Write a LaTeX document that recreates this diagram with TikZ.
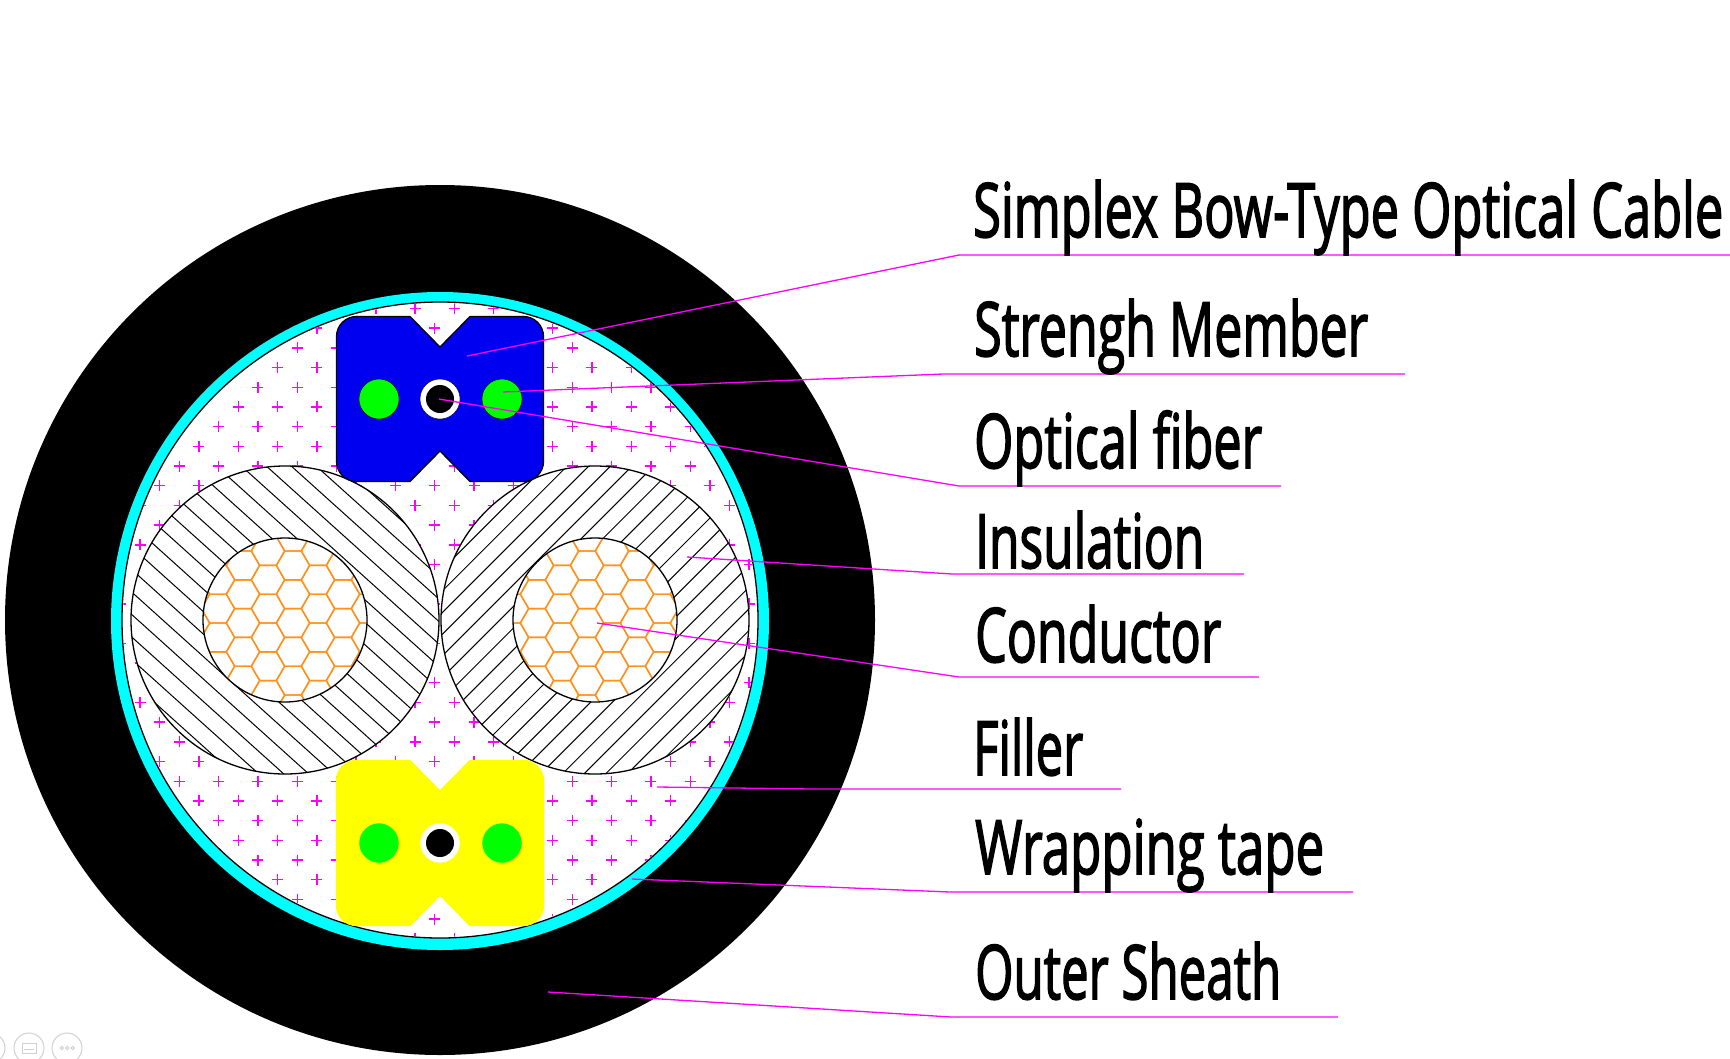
\documentclass[tikz,border=0pt]{standalone}
\usepackage{graphicx}
\usepackage{fontspec}
\setmainfont{Open Sans}
\newfontfamily\labelfont[FakeBold=2.4]{Open Sans}

\tikzset{
  leader/.style={draw=fillmagenta,line width=1.3pt},
  lbl/.style={anchor=base west,inner sep=0pt,font=\labelfont\fontsize{75}{80}\selectfont},
  plusmark/.style={draw=fillmagenta,line width=1.4pt},
  hexline/.style={draw=hexorange,line width=1.4pt},
  hatchline/.style={draw=black,line width=1pt},
  ringline/.style={draw=black,line width=1.3pt},
  dot/.style={circle,inner sep=0pt,fill=fibergreen,minimum size=40pt},
  iconline/.style={draw=black!18,line width=1pt}
}
\definecolor{fillmagenta}{RGB}{255,0,255}
\definecolor{hexorange}{RGB}{255,145,30}
\definecolor{fibergreen}{RGB}{0,255,0}
\definecolor{tapecyan}{RGB}{0,255,255}
\definecolor{bowblue}{RGB}{0,0,240}
\definecolor{bowyellow}{RGB}{255,255,0}

\newcommand{\cablelabel}[2]{\resizebox{#1pt}{\height}{#2}}

% one insulated conductor: centre x, hatch angle, hatch start, hatch step, first hexagon x
\newcommand{\conductor}[5]{
  \fill[white] (#1,620) circle [radius=154];
  \begin{scope}
    \clip (#1,620) circle [radius=154];
    \foreach \k in {0,...,20}
      \draw[hatchline,rotate around={#2:(#1,620)}] ({#1-170},{620+#3-#4*\k}) -- ({#1+170},{620+#3-#4*\k});
  \end{scope}
  \draw[ringline] (#1,620) circle [radius=154];
  \fill[white] (#1,620) circle [radius=82];
  \begin{scope}
    \clip (#1,620) circle [radius=82];
    \foreach \i in {-4,...,4}
      \foreach \j in {-4,...,4} {
        \pgfmathsetmacro{\cx}{#5+25*\i}
        \pgfmathsetmacro{\cy}{623+28.8*\j+14.4*mod(abs(\i),2)}
        \draw[hexline] ({\cx+16.7},\cy) -- ({\cx+8.35},{\cy+14.4}) -- ({\cx-8.35},{\cy+14.4})
          -- ({\cx-16.7},\cy) -- ({\cx-8.35},{\cy-14.4}) -- ({\cx+8.35},{\cy-14.4}) -- cycle;
      }
  \end{scope}
  \draw[ringline] (#1,620) circle [radius=82];
}

% one bow-type unit: centre y, body colour, outline colour, node prefix
\newcommand{\bowunit}[4]{
  \begin{scope}[shift={(440,#1)}]
    \filldraw[fill=#2,draw=#3,line width=1.3pt] (0,-52) -- (30,-82.5) -- (83.5,-82.5)
      .. controls (94.5,-82.5) and (103.5,-73.5) .. (103.5,-62.5) -- (103.5,62.5)
      .. controls (103.5,73.5) and (94.5,82.5) .. (83.5,82.5) -- (30,82.5) -- (0,52) -- (-30,82.5) -- (-83.5,82.5)
      .. controls (-94.5,82.5) and (-103.5,73.5) .. (-103.5,62.5) -- (-103.5,-62.5)
      .. controls (-103.5,-73.5) and (-94.5,-82.5) .. (-83.5,-82.5) -- (-30,-82.5) -- cycle;
    \node[dot,draw=#3] (#4left) at (-61,0) {};
    \node[dot,draw=#3] (#4right) at (62,0) {};
    \node[dot,fill=white,draw=#3] (#4ring) at (0,0) {};
    \node[dot,fill=black,minimum size=28pt] (#4core) at (0,0) {};
  \end{scope}
}

\begin{document}
\begin{tikzpicture}[x=1pt,y=-1pt]
  \useasboundingbox (0,0) rectangle (1730,1058);
  \fill[white] (0,0) rectangle (1730,1058);
  \clip (0,0) rectangle (1730,1058);

  \fill[black] (440,620) circle [radius=435];
  \fill[tapecyan] (440,621) circle [radius=329];
  \filldraw[fill=white,draw=black,line width=1.3pt] (440,620) circle [radius=318];

  \begin{scope}
    \clip (440,620) circle [radius=317];
    \foreach \j in {-9,...,24}
      \foreach \i in {-2,...,16} {
        \pgfmathsetmacro{\px}{179.3+39.3*\i-19.65*mod(abs(\j),2)}
        \pgfmathsetmacro{\py}{466+19.7*\j}
        \draw[plusmark] ({\px-5.5},\py) -- ({\px+5.5},\py) (\px,{\py-5.5}) -- (\px,{\py+5.5});
      }
  \end{scope}

  \conductor{285}{-42}{148.6}{16.7}{293}
  \conductor{595}{45}{146.9}{15.3}{587}

  \bowunit{399}{bowblue}{black}{top}
  \bowunit{843}{bowyellow}{bowyellow}{low}

  \coordinate (cableTip) at (467,356);
  \coordinate (cableElbow) at (959,255);
  \coordinate (cableEnd) at (1730,255);
  \coordinate (memberTip) at (503,392);
  \coordinate (memberElbow) at (943,374);
  \coordinate (memberEnd) at (1405,374);
  \coordinate (fiberTip) at (439,399);
  \coordinate (fiberElbow) at (959,486);
  \coordinate (fiberEnd) at (1281,486);
  \coordinate (insulTip) at (687,557);
  \coordinate (insulElbow) at (952,574);
  \coordinate (insulEnd) at (1244,574);
  \coordinate (condTip) at (597,623);
  \coordinate (condElbow) at (959,677);
  \coordinate (condEnd) at (1259,677);
  \coordinate (fillerTip) at (657,787);
  \coordinate (fillerElbow) at (813,789);
  \coordinate (fillerEnd) at (1121,789);
  \coordinate (tapeTip) at (632,879);
  \coordinate (tapeElbow) at (950,892);
  \coordinate (tapeEnd) at (1353,892);
  \coordinate (sheathTip) at (548,992);
  \coordinate (sheathElbow) at (951,1017);
  \coordinate (sheathEnd) at (1338,1017);
  \foreach \name in {cable,member,fiber,insul,cond,filler,tape,sheath}
    \draw[leader] (\name Tip) -- (\name Elbow) -- (\name End);

  \node[lbl] (cableText) at (973,237) {\cablelabel{750}{Simplex Bow-Type Optical Cable}};
  \node[lbl] (memberText) at (974,356) {\cablelabel{394}{Strengh Member}};
  \node[lbl] (fiberText) at (974,468) {\cablelabel{288}{Optical fiber}};
  \node[lbl] (insulText) at (975,568) {\cablelabel{229}{Insulation}};
  \node[lbl] (condText) at (975,662) {\cablelabel{246}{Conductor}};
  \node[lbl] (fillerText) at (973,775) {\cablelabel{110}{Filler}};
  \node[lbl] (tapeText) at (975,874) {\cablelabel{349}{Wrapping tape}};
  \node[lbl] (sheathText) at (975,999) {\cablelabel{306}{Outer Sheath}};

  \draw[iconline] (-10,1048) circle [radius=15];
  \draw[iconline] (29,1048) circle [radius=15];
  \draw[iconline] (67,1048) circle [radius=15];
  \draw[iconline] (22,1043) rectangle (36,1053);
  \draw[iconline] (24,1049) -- (34,1049);
  \foreach \x in {61.7,67.3,72.7}
    \draw[iconline] (\x,1048) circle [radius=1.7];
\end{tikzpicture}
\end{document}
